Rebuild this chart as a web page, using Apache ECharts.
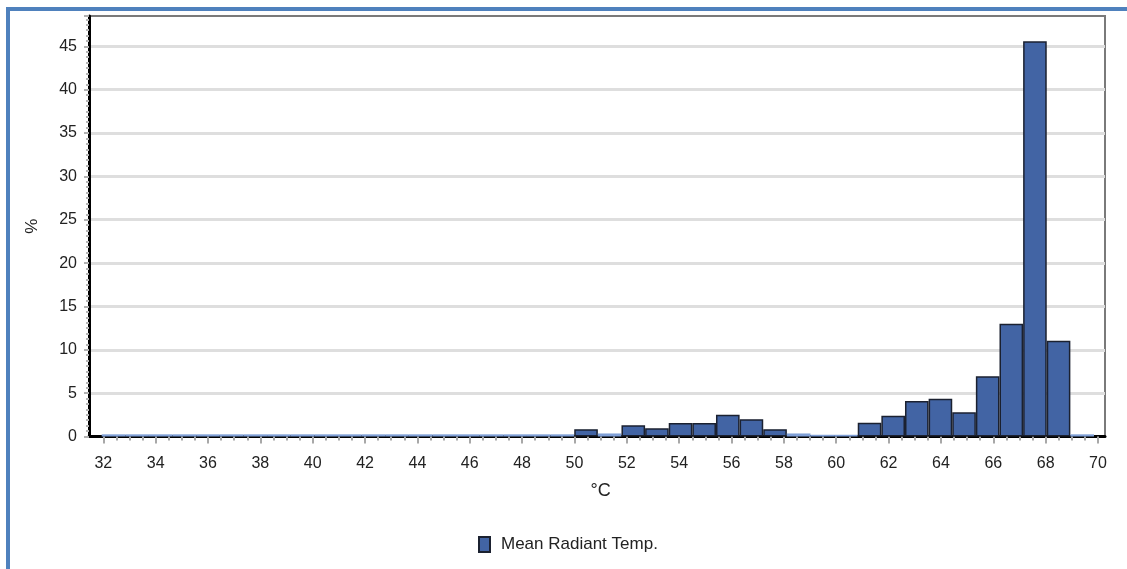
<!DOCTYPE html>
<html>
<head>
<meta charset="utf-8">
<script src="https://cdn.jsdelivr.net/npm/echarts@6/dist/echarts.min.js"></script>
<style>
  html, body { margin: 0; padding: 0; background: #fff; }
  #frame { position: absolute; left: 6px; top: 7px; width: 1121px; height: 562px;
           border-top: 4px solid #4f81bd; border-left: 4px solid #4f81bd; box-sizing: border-box; }
  #mychart { position: absolute; left: 0; top: 0; width: 1127px; height: 569px; }
</style>
</head>
<body>
<div id="frame"></div>
<div id="mychart"></div>
<script>
"use strict";
// lower edge of each histogram bin (°C)
const bins = ['32.0', '32.9', '33.8', '34.7', '35.6', '36.5', '37.4', '38.3', '39.2', '40.1',
    '41.0', '41.9', '42.9', '43.8', '44.7', '45.6', '46.5', '47.4', '48.3', '49.2',
    '50.1', '51.0', '51.9', '52.8', '53.7', '54.6', '55.5', '56.4', '57.3', '58.2',
    '59.1', '60.0', '60.9', '61.8', '62.8', '63.7', '64.6', '65.5', '66.4', '67.3',
    '68.2', '69.1'];
// share of hours (%)
const percent = [0.25, 0.25, 0.25, 0.25, 0.25, 0.25, 0.25, 0.25, 0.25, 0.25,
    0.25, 0.25, 0.25, 0.25, 0.25, 0.25, 0.25, 0.25, 0.25, 0.25,
    0.85, 0.35, 1.3, 0.95, 1.55, 1.55, 2.5, 2.0, 0.85, 0.35,
    0.2, 0.2, 1.6, 2.4, 4.1, 4.35, 2.8, 6.95, 13.0, 45.6,
    11.05, 0.25];
const seriesName = 'Mean Radiant Temp.';

const font = '"Liberation Sans Narrow", "Arial Narrow", "Liberation Sans", sans-serif';
const yMax = 48.5;
const gridTop = 16, gridBottom = 132.5;

const container = document.getElementById('mychart');
const myChart = echarts.init(container);

const barData = percent.map(v => {
    if (v < 0.5) {
        return { value: v, itemStyle: { color: '#7f9fd6', borderWidth: 0 } };
    }
    return v;
});

const option = {
    animation: false,
    grid: [
        // frame and axis lines
        { left: 89, right: 22, top: gridTop, bottom: gridBottom, show: true, borderColor: '#7a7a7a', borderWidth: 2 },
        // bins
        { left: 101.7, right: 33, top: gridTop, bottom: gridBottom },
        // temperature scale
        { left: 103.3, right: 29, top: gridTop, bottom: gridBottom }
    ],
    legend: {
        bottom: 11,
        left: 473,
        itemWidth: 11,
        itemHeight: 15,
        icon: 'rect',
        textStyle: { fontFamily: font, fontSize: 17, color: '#222', padding: [0, 0, 0, 6] },
        data: [seriesName]
    },
    xAxis: [
        {
            gridIndex: 0, type: 'value', min: 0, max: 1,
            axisLine: { show: true, lineStyle: { color: '#000', width: 3 } },
            axisTick: { show: false }, axisLabel: { show: false }, splitLine: { show: false }
        },
        {
            gridIndex: 1, type: 'category', data: bins, show: false, boundaryGap: true
        },
        {
            gridIndex: 2, type: 'value', min: 32, max: 70, interval: 2,
            name: '°C', nameLocation: 'middle', nameGap: 46,
            nameTextStyle: { fontFamily: font, fontSize: 18, color: '#222' },
            axisLine: { show: false },
            axisTick: { show: true, length: 7, lineStyle: { color: '#a8a8a8', width: 2 } },
            minorTick: { show: true, splitNumber: 4, length: 4, lineStyle: { color: '#a8a8a8', width: 2 } },
            axisLabel: { fontFamily: font, fontSize: 16, color: '#222', margin: 19 },
            splitLine: { show: false }
        }
    ],
    yAxis: [
        {
            gridIndex: 0, type: 'value', min: 0, max: yMax, interval: 5,
            name: '%', nameLocation: 'middle', nameGap: 48, nameRotate: 90,
            nameTextStyle: { fontFamily: font, fontSize: 17, color: '#222' },
            axisLine: { show: true, lineStyle: { color: '#000', width: 3 } },
            axisTick: { show: true, length: 5, lineStyle: { color: '#b0b0b0', width: 2 } },
            minorTick: { show: true, splitNumber: 8, length: 3, lineStyle: { color: '#b5b5b5', width: 2 } },
            axisLabel: { fontFamily: font, fontSize: 16, color: '#222', margin: 12, showMaxLabel: false },
            splitLine: { show: true, showMaxLine: false, lineStyle: { color: '#dedede', width: 3 } }
        },
        {
            gridIndex: 1, type: 'value', min: 0, max: yMax, show: false
        },
        {
            gridIndex: 2, type: 'value', min: 0, max: yMax, show: false
        }
    ],
    series: [
        {
            name: seriesName,
            type: 'bar',
            xAxisIndex: 1,
            yAxisIndex: 1,
            barWidth: '100%',
            barCategoryGap: 0,
            data: barData,
            itemStyle: { color: '#4264a4', borderColor: '#1b2130', borderWidth: 1.5 },
            z: 3
        }
    ]
};
myChart.setOption(option);
</script>
</body>
</html>
